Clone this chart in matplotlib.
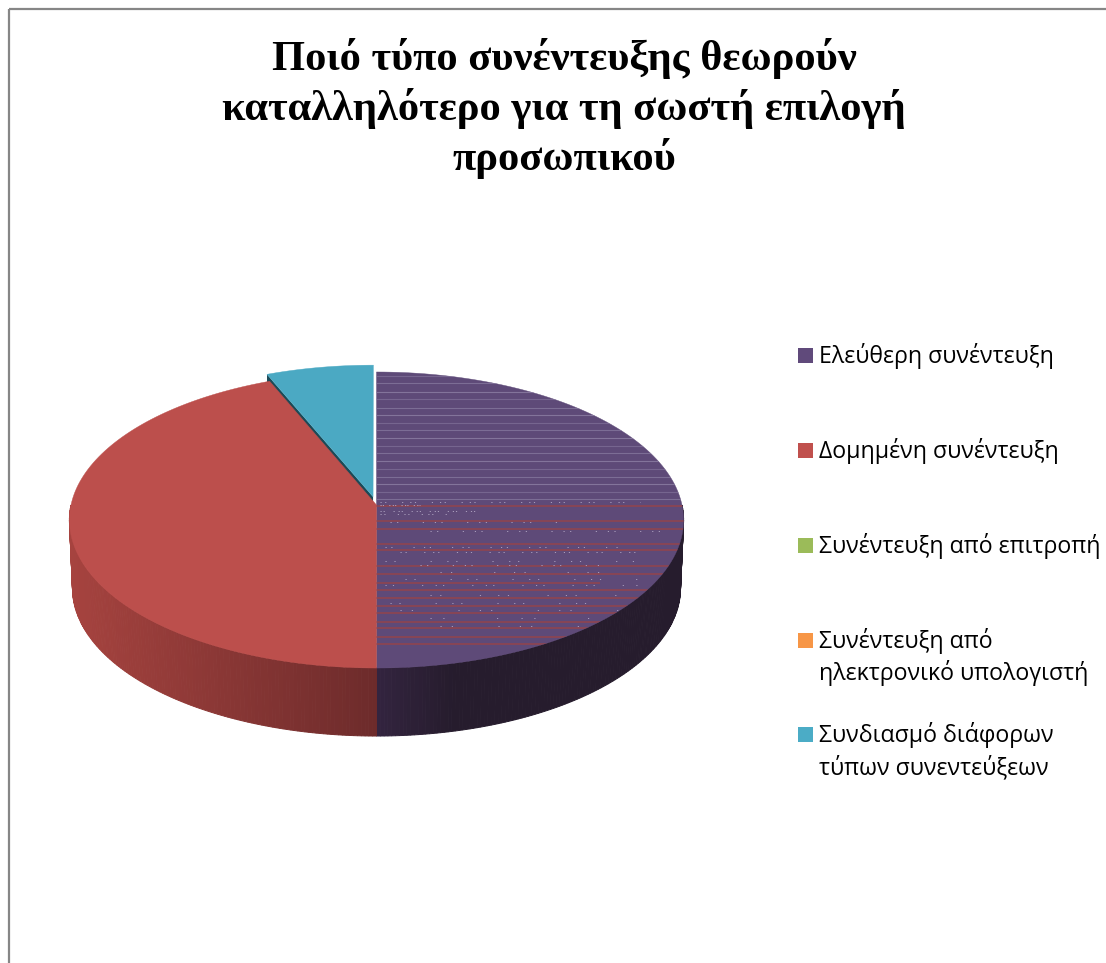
import numpy as np
import matplotlib
matplotlib.use("Agg")
import matplotlib.pyplot as plt
from matplotlib.colors import to_rgb
from matplotlib.patches import Polygon

# Απαντήσεις ανά τύπο συνέντευξης
categories = ["Ελεύθερη συνέντευξη", "Δομημένη συνέντευξη", "Συνέντευξη από επιτροπή",
              "Συνέντευξη από\nηλεκτρονικό υπολογιστή",
              "Συνδιασμό διάφορων\nτύπων συνεντεύξεων"]
values = [8, 7, 0, 0, 1]
colors = ["#5e4a78", "#bc4f4c", "#9bbb59", "#f79646", "#4ba9c3"]
legend_colors = ["#604a7b", "#c0504d", "#9bbb59", "#f79646", "#4bacc6"]
title = "Ποιό τύπο συνέντευξης θεωρούν\nκαταλληλότερο για τη σωστή επιλογή\nπροσωπικού"

# Γεωμετρία της τρισδιάστατης πίτας (σε pixels)
cx, cy = 376.5, 505
A, B, k = 305.5, 146.5, 0.1014
depth = 68
bottom_scale = 0.99
explode = {4: 0.058}


def project(theta, r=1.0, du=0.0, dv=0.0):
    u = r*np.sin(theta) + du
    v = r*np.cos(theta) + dv
    s = 1.0/(1.0 + k*v)
    return cx + A*u*s, cy - B*v*s


def wedge_top(t0, t1, du=0.0, dv=0.0):
    t = np.linspace(t0, t1, 120)
    x, y = project(t, 1.0, du, dv)
    ax0, ay0 = project(0.0, 0.0, du, dv)
    return np.r_[ax0, x], np.r_[ay0, y]


def mix(c0, c1, f):
    c0, c1 = np.array(to_rgb(c0)), np.array(to_rgb(c1))
    return tuple(c0 + (c1 - c0)*f)


fig = plt.figure(figsize=(11.06, 9.63), dpi=100)
ax = fig.add_axes([0, 0, 1, 1])
ax.set_xlim(0, 1106)
ax.set_ylim(963, 0)
ax.axis("off")

# Περίγραμμα του γραφήματος
ax.plot([9, 9], [963, 9], color="#868686", lw=1.6, solid_capstyle="butt")
ax.plot([9, 1106], [9, 9], color="#868686", lw=1.6, solid_capstyle="butt")

angles = np.cumsum([0] + values)/sum(values)*2*np.pi

# Πλευρικά τοιχώματα με διαβάθμιση
wall_shades = {0: ("#33243f", "#261c2d"), 1: ("#6d2b2b", "#a6433f")}
for i, (c0, c1) in wall_shades.items():
    t = np.linspace(max(angles[i], np.pi/2), min(angles[i+1], 3*np.pi/2), 140)
    for a, b in zip(t[:-1], t[1:]):
        x0, y0 = project(a)
        x1, y1 = project(b)
        f = abs((x0 + x1)/2 - cx)/307
        if i == 0:
            f = min(f*4, 1)
        xb0 = cx + (x0 - cx)*bottom_scale
        xb1 = cx + (x1 - cx)*bottom_scale
        c = mix(c0, c1, f)
        ax.fill([x0, x1, xb1, xb0], [y0, y1, y1 + depth, y0 + depth],
                facecolor=c, edgecolor=c, lw=0.7, zorder=2)

# Πάνω επιφάνειες των τμημάτων
patches = {}
for i in [4, 0, 1]:
    mid = (angles[i] + angles[i+1])/2
    d = explode.get(i, 0.0)
    du, dv = d*np.sin(mid), d*np.cos(mid)
    x, y = wedge_top(angles[i], angles[i+1], du, dv)
    if d:
        # Η σκούρα τομή του αποσπασμένου τμήματος
        ex, ey = project(angles[i], 1.0, du, dv)
        ax0, ay0 = project(0.0, 0.0, du, dv)
        ax.fill([ax0, ex, ex, ax0], [ay0, ey, ey + depth, ay0 + depth],
                color="#1b4a57", lw=0, zorder=3)
    p = Polygon(np.c_[x, y], closed=True, facecolor=colors[i], edgecolor=colors[i],
                lw=0.3, zorder=4)
    ax.add_patch(p)
    patches[i] = p

# Οριζόντιες γραμμές στο μωβ τμήμα
light_y = [376, 383, 392, 399, 408, 415, 423, 430, 438, 446, 453, 461, 469, 477, 484, 492, 499]
stripe_y = [506, 521, 529, 544, 550, 566, 574, 583, 590, 598, 606, 613, 622, 628, 637, 644]
stripe_end = [690, 690, 690, 690, 690, 690, 690, 600, 690, 690, 640, 625, 600, 590, 570, 547]
# (y, αρχή, τέλος, κενό) για τις σειρές από κουκκίδες
speck_rows = [(502, 380, 640, 9), (505, 380, 420, 3), (511, 380, 480, 5), (514, 380, 450, 7),
              (522, 390, 560, 14), (531, 430, 660, 14), (547, 385, 620, 12), (552, 400, 650, 10),
              (561, 385, 640, 20), (565, 420, 600, 14), (572, 440, 640, 24), (579, 405, 650, 20),
              (585, 385, 640, 16), (595, 430, 630, 22), (603, 390, 610, 20), (610, 400, 620, 26),
              (618, 430, 600, 30), (626, 440, 580, 26)]

for n, y in enumerate(light_y):
    ln, = ax.plot([376, 690], [y, y], color="#8a7ca2", lw=0.8, alpha=0.55 + 0.15*(n % 3), zorder=5,
                  solid_capstyle="butt")
    ln.set_clip_path(patches[0])
for y, x1 in zip(stripe_y, stripe_end):
    ln, = ax.plot([376, x1], [y, y], color="#93444c", lw=1.1, zorder=5, solid_capstyle="butt")
    ln.set_clip_path(patches[0])
for y, x0, x1, gap in speck_rows:
    ln, = ax.plot([x0, x1], [y, y], color="#a99dbc", lw=0.7, zorder=5,
                  linestyle=(0, (1.2, gap*0.4, 1.2, gap*1.8, 1.2, gap*0.8)), dash_capstyle="butt")
    ln.set_clip_path(patches[0])

# Τίτλος
for line, yb in zip(title.split("\n"), [70, 120, 170]):
    ax.text(564, yb, line, ha="center", va="baseline", color="black",
            fontfamily="Liberation Serif", fontweight="bold", fontsize=30.6)

# Υπόμνημα
legend_y = [363, 458, 553, 648, 742]
for name, c, yb in zip(categories, legend_colors, legend_y):
    ax.fill([798, 813, 813, 798], [yb - 15, yb - 15, yb, yb], color=c, lw=0)
    for j, line in enumerate(name.split("\n")):
        ax.text(819, yb + 32*j, line, ha="left", va="baseline", color="black",
                fontfamily="Open Sans", fontsize=16.7)

fig.savefig("out.png", dpi=100)
